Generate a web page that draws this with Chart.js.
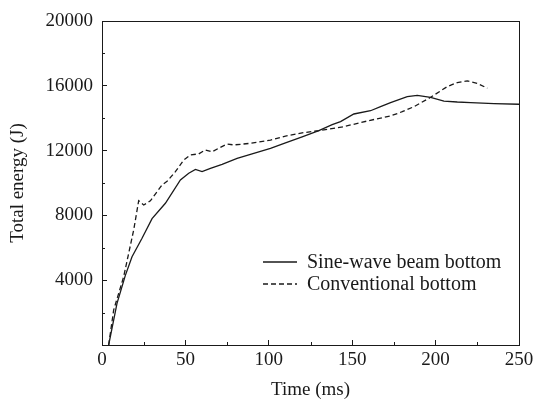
<!DOCTYPE html>
<html>
<head>
<meta charset="utf-8">
<script src="https://cdn.jsdelivr.net/npm/chart.js@4.4.1/dist/chart.umd.min.js"></script>
<style>
  html, body { margin: 0; padding: 0; background: #fff; }
  #wrap { width: 536px; height: 403px; }
</style>
</head>
<body>
<div id="wrap"><canvas id="energyChart"></canvas></div>
<script>
// Zeit (ms) und Gesamtenergie (J)
const sineTime   = [4, 9, 14, 18, 24, 30, 38, 47, 52, 56, 60, 65, 72, 81, 90, 101, 110, 120, 130, 138, 143, 151, 161, 167, 173, 183, 189, 197, 205, 213, 221, 235, 250];
const sineEnergy = [0, 2570, 4300, 5450, 6590, 7800, 8750, 10190, 10600, 10840, 10700, 10900, 11150, 11520, 11800, 12140, 12480, 12850, 13230, 13600, 13790, 14260, 14460, 14710, 14960, 15330, 15410, 15290, 15060, 15000, 14960, 14900, 14860];

const convTime   = [4, 7, 13, 19, 22, 25, 29, 36, 39, 44, 49, 53, 58, 62, 66, 70, 75, 79, 89, 101, 110, 121, 130, 145, 160, 173, 180, 187, 197, 207, 213, 219, 225, 231];
const convEnergy = [0, 2160, 4220, 7100, 8910, 8640, 8900, 9880, 10100, 10700, 11420, 11730, 11800, 12040, 11930, 12150, 12410, 12350, 12450, 12650, 12900, 13110, 13230, 13480, 13850, 14140, 14400, 14710, 15290, 15950, 16200, 16300, 16150, 15850];

const seriesLabels = ['Sine-wave beam bottom', 'Conventional bottom'];
const xTicks = [0, 50, 100, 150, 200, 250];       // Hauptstriche x
const yTicks = [4000, 8000, 12000, 16000, 20000]; // beschriftete y-Werte
const xMinor = [25, 75, 125, 175, 225];
const yMinor = [2000, 6000, 10000, 14000, 18000];

const serif = '"Liberation Serif", "Times New Roman", serif';
const ink = '#1a1a1a';

function toPoints(xs, ys) {
  return xs.map((x, i) => ({ x: x, y: ys[i] }));
}

// Rahmen, kleine Striche und Legende innerhalb der Zeichenfläche
const framePlugin = {
  id: 'frame',
  afterDraw(chart) {
    const c = chart.ctx;
    const a = chart.chartArea;
    const xs = chart.scales.x;
    const ys = chart.scales.y;
    c.save();
    c.strokeStyle = ink;
    c.lineWidth = 1;
    c.strokeRect(a.left + 0.5, a.top + 0.5, a.right - a.left, a.bottom - a.top);

    c.beginPath();
    xMinor.forEach(v => {
      const px = Math.round(xs.getPixelForValue(v)) + 0.5;
      c.moveTo(px, a.bottom);
      c.lineTo(px, a.bottom - 3);
    });
    yMinor.forEach(v => {
      const py = Math.round(ys.getPixelForValue(v)) + 0.5;
      c.moveTo(a.left, py);
      c.lineTo(a.left + 3, py);
    });
    c.stroke();

    // Legende
    c.font = '20px ' + serif;
    c.textBaseline = 'middle';
    c.fillStyle = ink;
    chart.data.datasets.forEach((ds, i) => {
      const y = a.top + 241 + i * 22;
      const x0 = a.left + 161;
      c.beginPath();
      c.lineWidth = ds.borderWidth;
      c.setLineDash(ds.borderDash || []);
      c.moveTo(x0, y);
      c.lineTo(x0 + 34, y);
      c.stroke();
      c.setLineDash([]);
      c.fillText(ds.label, x0 + 44, y + 1);
    });
    c.restore();
  }
};

new Chart(document.getElementById('energyChart'), {
  type: 'line',
  data: {
    datasets: [{
      label: seriesLabels[0],
      data: toPoints(sineTime, sineEnergy),
      borderColor: ink,
      borderWidth: 1.3,
      pointRadius: 0,
      tension: 0
    }, {
      label: seriesLabels[1],
      data: toPoints(convTime, convEnergy),
      borderColor: ink,
      borderWidth: 1.3,
      borderDash: [5, 3],
      pointRadius: 0,
      tension: 0
    }]
  },
  options: {
    responsive: true,
    maintainAspectRatio: false,
    animation: false,
    layout: {
      padding: { top: 21, right: 17, left: 0, bottom: 0 }
    },
    scales: {
      x: {
        type: 'linear',
        min: 0,
        max: 250,
        afterBuildTicks: s => { s.ticks = xTicks.map(v => ({ value: v })); },
        afterFit: s => {
          s.height = 58;
          s.paddingLeft = 0;
          s.paddingRight = 0;
        },
        ticks: {
          color: ink,
          padding: 9,
          maxRotation: 0,
          font: { family: serif, size: 19 }
        },
        grid: { drawOnChartArea: false, tickLength: -5, color: ink },
        border: { color: ink, width: 1 },
        title: {
          display: true,
          text: 'Time (ms)',
          color: ink,
          padding: { top: 0, bottom: 2 },
          font: { family: serif, size: 19 }
        }
      },
      y: {
        min: 0,
        max: 20000,
        afterBuildTicks: s => { s.ticks = [0].concat(yTicks).map(v => ({ value: v })); },
        afterFit: s => {
          s.width = 102;
          s.paddingTop = 0;
          s.paddingBottom = 0;
        },
        ticks: {
          color: ink,
          padding: 14,
          font: { family: serif, size: 19 },
          callback: v => (v === 0 ? '' : String(v))
        },
        grid: { drawOnChartArea: false, tickLength: -5, color: ink },
        border: { color: ink, width: 1 },
        title: {
          display: true,
          text: 'Total energy (J)',
          color: ink,
          padding: { top: 7, bottom: 0 },
          font: { family: serif, size: 19 }
        }
      }
    },
    plugins: {
      legend: { display: false },
      tooltip: { enabled: false }
    }
  },
  plugins: [framePlugin]
});
</script>
</body>
</html>
